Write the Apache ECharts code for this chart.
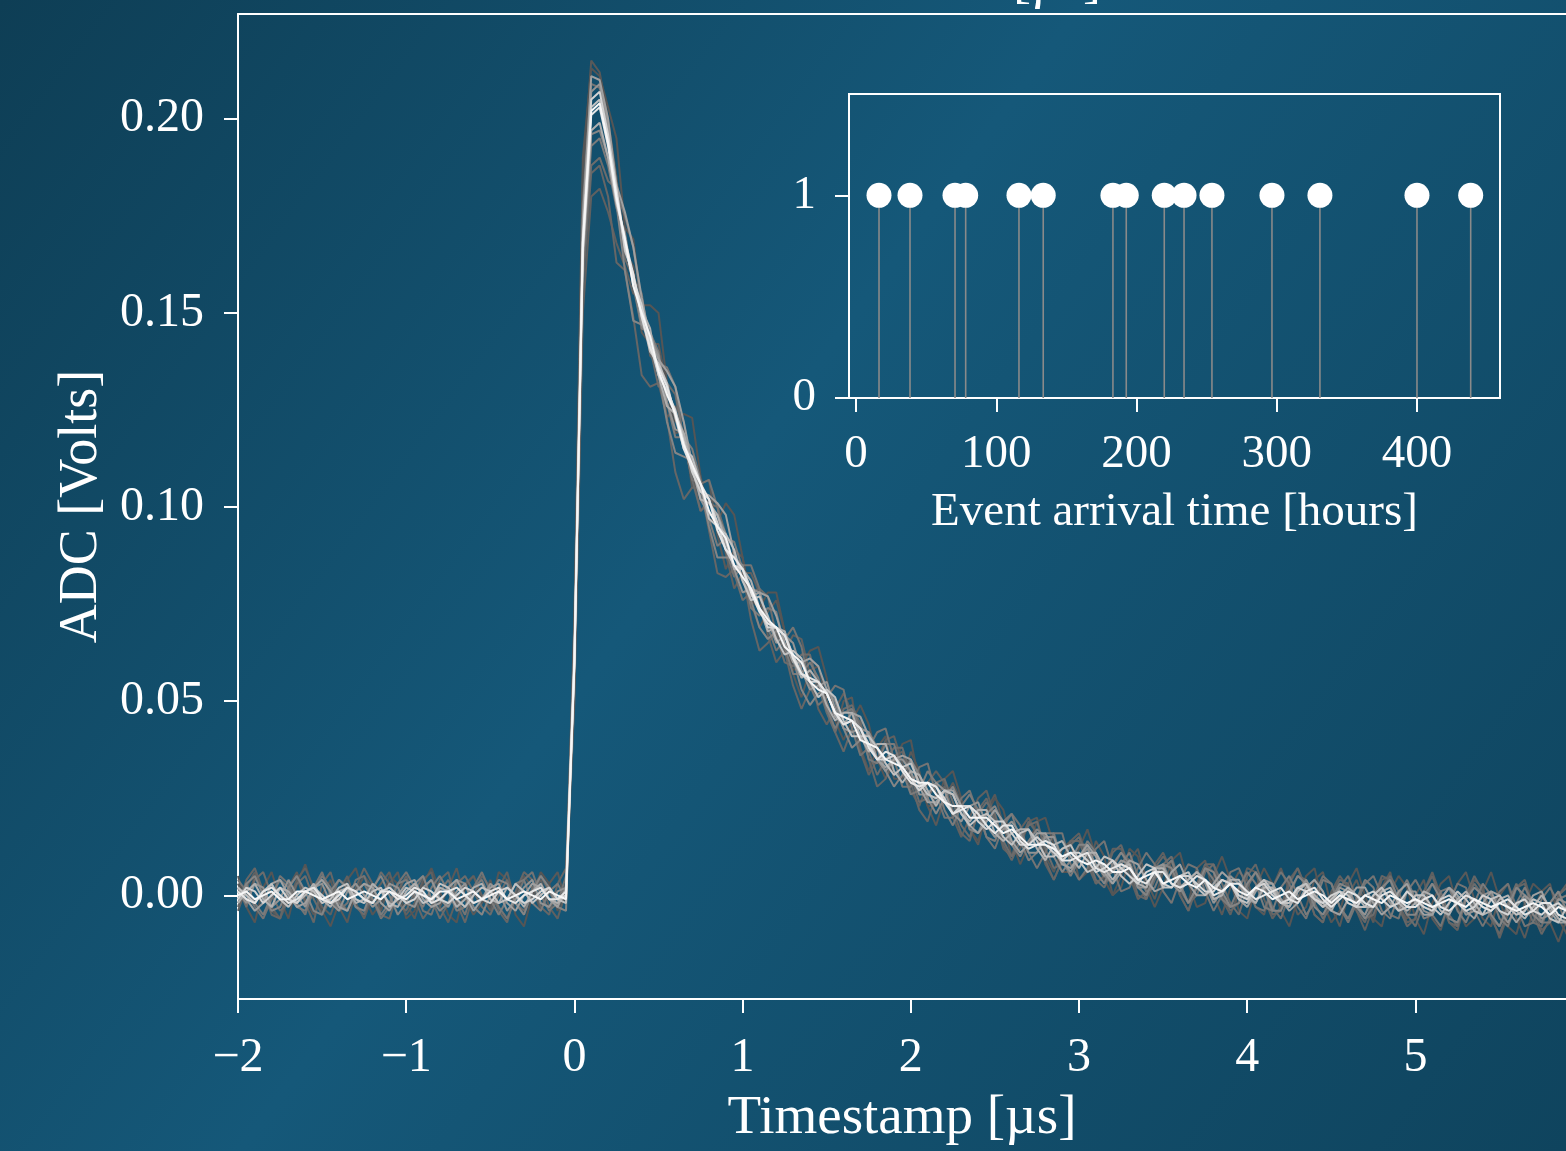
<!DOCTYPE html>
<html>
<head>
<meta charset="utf-8">
<script src="https://cdn.jsdelivr.net/npm/echarts@6/dist/echarts.min.js"></script>
<style>
html,body{margin:0;padding:0;background:#123f57;}
#chart{width:1566px;height:1151px;}
</style>
</head>
<body>
<div id="chart"></div>
<script>
// ---- main panel: waveform sample times [µs] ----
const timestamps = [
-2,-1.95,-1.9,-1.85,-1.8,-1.75,-1.7,-1.65,-1.6,-1.55,-1.5,-1.45,-1.4,-1.35,-1.3,-1.25,-1.2,-1.15,-1.1,-1.05,
-1,-0.95,-0.9,-0.85,-0.8,-0.75,-0.7,-0.65,-0.6,-0.55,-0.5,-0.45,-0.4,-0.35,-0.3,-0.25,-0.2,-0.15,-0.1,-0.05,
0,0.05,0.1,0.15,0.2,0.25,0.3,0.35,0.4,0.45,0.5,0.55,0.6,0.65,0.7,0.75,0.8,0.85,0.9,0.95,
1,1.05,1.1,1.15,1.2,1.25,1.3,1.35,1.4,1.45,1.5,1.55,1.6,1.65,1.7,1.75,1.8,1.85,1.9,1.95,
2,2.05,2.1,2.15,2.2,2.25,2.3,2.35,2.4,2.45,2.5,2.55,2.6,2.65,2.7,2.75,2.8,2.85,2.9,2.95,
3,3.05,3.1,3.15,3.2,3.25,3.3,3.35,3.4,3.45,3.5,3.55,3.6,3.65,3.7,3.75,3.8,3.85,3.9,3.95,
4,4.05,4.1,4.15,4.2,4.25,4.3,4.35,4.4,4.45,4.5,4.55,4.6,4.65,4.7,4.75,4.8,4.85,4.9,4.95,
5,5.05,5.1,5.15,5.2,5.25,5.3,5.35,5.4,5.45,5.5,5.55,5.6,5.65,5.7,5.75,5.8,5.85,5.9];

const traceA_mV = [3,-2,5,1,-4,-6,2,6,-1,-5, 0,4,-3,-7,1,5,2,-4,3,6, -2,-6,1,4,-3,2,7,-1,-5,-2, 4,-3,-6,0,5,2,-4,3,6,-2, 70,185,215,212,200, 185,166,162,145,142,142,131,119,120,105, 106,107,93,84,89,87,75,69,73,76, 68,57,51,58,59,50,42,50,51,38, 32,38,41,30,30,37,32,23,18,25, 29,24,17,13,22,26,18,10,12,19, 20,10,6,12,14,4,6,14,10,0, 2,9,12,4,-1,6,9,1,-2,7, 9,0,-5,2,6,4,-3,-5,2,7, 1,-5,-3,4,6,-3,-8,0,4,-2, -7,2,6,-3,-6,0,4,-6,-9,-2, 3,6,-1,-6,-8,0,3,-6,-11,-4, 1,3,-6,-10];
const traceK_mV = [5,-3,-7,2,6,-1,-6,3,8,1, -4,-8,-2,4,7,0,-5,-2,5,3, -6,-4,3,7,1,-5,-7,2,5,-1, -3,6,4,-5,-8,0,6,3,-4,2, 72,190,213,211,203, 195,172,169,152,152,150,132,122,124,123, 108,97,96,101,98,87,76,74,78,78, 68,58,59,63,64,56,45,40,45,49, 44,35,30,34,39,40,29,23,23,30, 32,25,17,14,21,25,22,14,8,13, 19,20,13,6,6,12,17,10,4,0, 5,12,10,2,-3,2,9,11,3,-3, -2,5,10,4,-4,-6,2,7,3,-4, -8,-1,5,7,-2,-7,-4,3,7,0, -6,-8,1,5,2,-6,-10,-2,3,5, -3,-8,-6,1,6,-1,-8,-10,-2,3, 1,-7,-12,-6];
const traceB_mV = [-4,2,6,1,-3,-6,-1,4,7,2, -3,-5,1,5,-2,-6,0,3,6,-1, -5,-2,4,6,-3,-7,-1,3,5,0, -4,2,6,-2,-5,1,4,-3,-6,1, 50,150,180,182,176, 168,162,155,154,139,137,123,126,122,109, 99,102,101,88,79,83,83,78,67,60, 63,67,66,57,48,44,48,52,47,37, 31,35,40,41,34,27,23,29,32,29, 20,15,20,25,27,20,12,10,17,20, 16,8,4,9,14,16,10,3,5,12, 12,5,-1,1,8,11,6,0,-4,2, 8,6,-1,-5,1,7,6,-1,-6,-3, 4,7,1,-5,-7,1,5,2,-4,-9, -3,4,5,-2,-7,-6,1,6,0,-7, -9,-1,4,2,-5,-11,-5,2,4,-3, -9,-7,0,3];
const traceL_mV = [-3,4,7,1,-5,-6,2,5,-2,-7, 3,6,-1,-4,2,7,3,-5,-6,1, 5,-1,-6,-3,4,6,-2,-7,0,5, 2,-4,-7,1,6,4,-3,-5,3,7, 55,157,186,188,180, 163,161,149,134,131,132,123,109,102,105, 105,94,83,82,84,83,71,63,65,68, 63,54,48,53,55,50,42,37,43,45, 35,28,30,36,37,29,22,19,26,28, 22,16,14,22,25,19,13,9,14,19, 16,9,4,9,14,14,8,3,5,11, 13,7,0,-1,7,10,7,0,-4,3, 8,8,0,-4,-2,5,8,2,-5,-4, 3,7,2,-5,-7,0,4,3,-4,-7, -1,5,4,-3,-8,-6,1,5,-1,-7, -8,0,5,1,-6,-10,-4,2,3,-5, -10,-6,0,2];
const traceC_mV = [2,-3,4,6,0,-4,-2,3,5,-1, -5,-1,4,2,-3,-5,1,6,3,-2, -4,1,5,-1,-6,-2,3,5,1,-3, -5,0,4,-2,-4,2,5,1,-3,3, 58,160,188,190,184, 182,164,159,155,141,131,132,129,117,107, 99,101,100,93,83,76,78,79,77,67, 60,59,62,62,54,47,42,48,49,44, 37,31,35,38,38,31,24,25,29,30, 24,18,15,21,24,21,14,10,14,18, 19,12,7,8,13,15,10,4,2,7, 11,9,3,-1,4,8,10,3,-2,0, 6,8,3,-2,-5,2,6,3,-3,-6, 0,5,4,-2,-6,-3,2,5,-1,-6, -5,1,5,1,-5,-8,-2,3,1,-5, -8,-1,3,0,-6,-8,-2,3,-2,-7, -8,-2,1,-5];
const traceM_mV = [4,1,-3,-6,-1,5,3,-2,-5,2, 6,0,-4,-2,4,5,-1,-6,-3,3, 6,2,-4,-5,1,4,-1,-5,2,6, 1,-3,-6,-1,4,6,0,-4,-2,5, 66,178,209,208,199, 181,175,167,152,141,137,136,131,117,107, 106,107,100,89,82,85,85,79,69,63, 66,69,64,54,49,51,54,53,43,36, 38,42,43,35,28,28,33,34,26,20, 20,25,27,21,15,12,18,21,18,11, 7,11,16,16,8,4,7,12,14,7, 1,2,7,11,8,1,-2,4,8,7, 1,-4,0,6,7,2,-3,-4,2,6, 3,-3,-6,0,5,3,-3,-7,-2,3, 5,0,-5,-6,1,4,0,-5,-8,-2, 3,2,-4,-8,-4,1,3,-3,-8,-7, -1,2,-2,-8];
const traceD_mV = [-1,3,-2,-5,0,4,2,-3,-4,1, 5,2,-2,-4,1,3,-1,-5,-2,3, 4,0,-3,2,5,1,-4,-3,2,4, -1,-5,-1,3,4,-2,-4,1,3,-1, 62,163,193,195,188, 177,171,157,146,145,140,127,118,118,115, 107,97,90,92,91,84,74,72,74,73, 64,57,57,60,56,48,43,47,48,43, 35,34,39,39,32,26,27,32,29,22, 18,23,26,22,15,14,19,21,14,9, 11,16,16,9,5,9,14,11,5,3, 8,11,5,1,2,7,9,3,-2,2, 7,4,-1,-3,2,6,3,-3,-4,2, 5,0,-5,-2,4,3,-3,-6,-1,4, 2,-4,-6,0,4,-1,-6,-5,1,2, -4,-7,-2,3,0,-6,-8,-2,2,-2, -7,-7,-1,0];
const traceN_mV = [-2,3,5,0,-4,-3,2,5,1,-4, -5,1,4,2,-3,-4,2,5,0,-5, -2,3,5,-1,-4,-2,4,3,-3,-5, 0,4,3,-2,-5,1,5,2,-3,-4, 63,163,196,197,190, 178,161,148,147,143,134,122,114,113,112, 105,95,87,87,87,85,76,69,66,68, 68,61,53,49,52,53,50,43,38,40, 42,38,32,28,31,35,31,25,21,25, 28,23,17,16,21,23,18,13,10,14, 17,15,10,6,9,13,13,6,3,8, 11,8,2,0,5,8,7,2,-2,2, 7,6,1,-3,-2,3,6,2,-4,-4, 1,5,3,-3,-5,-1,3,2,-3,-6, -3,2,4,-1,-5,-5,0,3,-1,-6, -7,-1,2,0,-5,-8,-3,2,0,-5, -7,-2,1,-4];
const traceE_mV = [1,-2,3,2,-3,-1,4,0,-3,2, 3,-2,-4,1,3,0,-3,-1,3,2, -2,-3,2,4,-1,-3,1,3,-2,-1, 3,1,-4,-1,2,4,-2,-3,1,2, 60,170,207,209,198, 183,167,160,147,144,139,127,120,119,112, 102,98,98,93,84,78,79,78,71,65, 67,65,58,53,54,55,48,43,42,43, 42,35,32,35,35,32,26,26,29,27, 21,19,23,24,18,15,17,19,16,11, 11,15,15,9,6,10,12,8,5,6, 9,8,2,2,7,8,3,1,4,6, 3,-2,1,5,3,-1,-2,3,3,-1, -3,1,4,0,-3,-2,2,1,-3,-5, 0,2,-2,-4,1,1,-4,-5,-1,2, -1,-5,-4,0,1,-4,-7,-3,0,-2, -6,-5,-1,-2];
const traceO_mV = [2,-1,-4,-2,3,4,0,-3,-2,2, 4,1,-3,-4,1,3,2,-2,-4,0, 3,4,-1,-3,-2,2,4,0,-4,-1, 2,3,-2,-4,0,3,2,-1,-3,2, 64,174,211,210,200, 183,176,167,154,143,138,135,131,122,111, 104,103,101,98,88,81,77,78,77,72, 65,60,60,61,59,53,46,44,47,46, 41,35,33,35,36,35,28,24,24,27, 27,23,18,16,19,22,19,14,11,13, 16,16,12,8,7,10,13,10,6,3, 6,9,8,4,1,2,6,8,3,0, 0,3,6,4,-1,-3,1,4,3,-1, -4,-2,2,4,1,-4,-5,-1,2,2, -2,-5,-3,1,3,-2,-5,-5,-1,2, 0,-4,-6,-2,1,0,-4,-7,-4,0, 1,-4,-7,-7];
const traceF_mV = [-2,1,3,-1,-3,2,1,-2,0,3, -1,-3,1,2,-2,-1,3,1,-2,-3, 1,3,0,-2,2,1,-3,-1,2,3, -1,-2,2,0,-3,1,3,-1,-2,0, 61,165,197,199,190, 178,170,157,151,146,134,126,124,119,110, 102,101,98,91,84,84,81,74,68,69, 68,61,56,58,55,49,45,47,47,41, 37,39,39,32,29,32,31,27,23,27, 26,21,19,22,22,16,14,16,17,17, 12,9,13,14,10,7,11,11,7,4, 7,8,3,2,7,7,3,2,4,6, 4,-1,0,4,4,0,-2,2,2,-2, -3,1,3,0,-2,-4,0,2,0,-3, -3,1,2,-2,-4,-2,1,0,-4,-5, -1,1,-2,-5,-4,-1,0,-4,-6,-3, 0,-3,-6,-7];
const traceG_mV = [2,0,-2,1,3,-1,-3,0,2,1, -2,-1,2,3,-1,-2,1,2,-3,-1, 2,1,-2,-1,3,2,-1,-3,0,2, 1,-2,-1,3,1,-2,0,2,-1,-2, 59,168,203,205,195, 181,166,160,149,140,137,132,123,115,113, 106,97,95,93,89,81,76,77,72,66, 62,63,61,55,51,53,51,45,41,41, 41,38,34,31,33,34,29,26,25,27, 26,21,18,20,21,19,15,13,16,17, 14,10,10,12,13,9,6,7,10,9, 5,3,5,8,7,2,2,5,6,2, 0,2,4,3,-1,-2,2,4,1,-2, -2,2,3,-1,-3,-1,1,0,-3,-3, 0,2,-1,-4,-3,0,0,-3,-5,-2, 1,-1,-4,-5,-1,0,-3,-5,-4,-1, -2,-6,-7,-3];
const traceH_mV = [-1,2,1,-2,0,2,-1,-2,1,2, 0,-2,-1,2,1,-1,-2,1,2,0, -2,-1,2,1,-1,-2,0,2,1,-1, -2,1,2,0,-2,-1,1,2,-1,0, 61,169,205,207,196, 182,167,159,152,142,134,130,125,117,109, 104,102,96,89,85,84,79,74,69,69, 67,62,57,55,55,52,47,44,45,43, 39,35,35,36,33,30,27,29,28,25, 21,23,23,19,17,19,19,16,13,13, 15,13,11,9,11,11,9,6,7,9, 7,5,3,6,7,3,2,5,5,3, 1,1,4,3,0,-1,2,3,0,-2, -1,2,1,-1,-2,0,1,-2,-3,0, 1,-1,-3,-2,1,-1,-3,-4,-1,0, -2,-4,-3,0,-1,-4,-5,-2,-1,-4, -5,-3,-2,-4];
const traceI_mV = [1,-1,-2,1,2,0,-2,-1,1,2, -1,-2,0,2,1,-1,-2,1,1,-1, 0,2,1,-2,-1,1,2,0,-2,-1, 1,2,-1,-2,0,1,2,-1,-1,1, 60,166,201,203,193, 179,169,160,149,141,136,131,124,115,110, 106,102,94,89,87,84,78,73,70,69, 67,61,57,56,55,52,47,44,45,43, 38,35,37,36,32,29,28,29,28,24, 21,22,23,21,18,16,18,18,14,12, 13,14,13,9,9,10,11,7,6,7, 8,7,4,3,6,6,3,2,3,5, 4,0,1,3,3,1,-1,0,1,2, -1,-2,1,2,-1,-3,-1,1,0,-2, -3,0,1,-1,-3,-3,-1,0,-3,-4, -2,0,-1,-3,-4,-2,-1,-3,-5,-4, -2,-2,-5,-6];
const traceJ_mV = [0,1,-1,0,1,-1,-1,1,1,0, -1,0,1,-1,0,1,0,-1,1,0, -1,1,0,-1,1,1,-1,0,1,-1, 0,1,-1,0,1,0,-1,1,0,-1, 60,168,202,204,194, 180,169,157,150,144,135,129,124,116,111, 106,99,95,92,85,82,79,74,71,69, 64,62,60,55,53,52,47,46,45,40, 39,38,35,34,33,30,29,29,26,24, 23,23,20,20,20,18,16,17,15,13, 13,13,12,10,11,9,8,9,8,6, 6,7,4,5,6,3,4,5,3,2, 4,2,1,3,1,0,2,1,-1,0, 1,-1,0,1,0,-2,0,-1,-2,0, -1,-2,0,-1,-2,-1,-2,-3,-2,-1, -2,-3,-1,-2,-3,-2,-3,-4,-3,-2, -3,-5,-3,-4];

// drawing order: darkest first, brightest on top
const traces = [traceA_mV, traceK_mV, traceB_mV, traceL_mV, traceC_mV, traceM_mV, traceD_mV, traceN_mV, traceE_mV, traceO_mV, traceF_mV, traceG_mV, traceH_mV, traceI_mV, traceJ_mV];
const traceColors = ['#595959', '#555555', '#606060', '#666666', '#6c6c6c', '#747474', '#7b7b7b', '#858585', '#939393', '#a0a0a0', '#b0b0b0', '#c2c2c2', '#d4d4d4', '#e6e6e6', '#f7f7f7'];

const mainXTicks = [-2, -1, 0, 1, 2, 3, 4, 5];
const mainYTicks = [0, 0.05, 0.10, 0.15, 0.20];

// ---- inset: event arrival times [hours] ----
const arrivalHours = [16.4, 38.5, 70.6, 78.2, 116.2, 133.5, 183.2, 192.7, 219.8, 233.9, 253.8, 296.6, 330.8, 400.0, 438.3];
const arrivalCount = [1, 1, 1, 1, 1, 1, 1, 1, 1, 1, 1, 1, 1, 1, 1];
const insetXTicks = [0, 100, 200, 300, 400];
const insetYTicks = [0, 1];

const FONT = '"Liberation Serif", "DejaVu Serif", serif';
const WHITE = '#ffffff';

const chart = echarts.init(document.getElementById('chart'), null, {renderer: 'canvas'});

function fmtMinus(v) {
  return v < 0 ? '\u2212' + Math.abs(v) : String(v);
}

const traceSeries = traces.map((tr, k) => ({
  type: 'line',
  xAxisIndex: 0,
  yAxisIndex: 0,
  data: timestamps.map((t, i) => [t, tr[i] / 1000]),   // mV -> V
  showSymbol: false,
  symbol: 'none',
  silent: true,
  clip: true,
  lineStyle: {color: traceColors[k], width: 2},
  z: 2
}));

const tickStyle = {show: true, inside: false, length: 14, lineStyle: {color: WHITE, width: 2}};
const lineStyleW = {show: true, onZero: false, lineStyle: {color: WHITE, width: 2}};

const option = {
  animation: false,
  backgroundColor: {
    type: 'linear', x: 0, y: 0, x2: 1, y2: 1,
    colorStops: [
      {offset: 0, color: '#0e3e55'},
      {offset: 0.45, color: '#155879'},
      {offset: 1, color: '#0f445e'}
    ]
  },
  textStyle: {fontFamily: FONT},
  graphic: [{
    type: 'text',
    left: 1013,
    top: -44,
    style: {text: '[\u00b5s]', fill: WHITE, font: '54px ' + FONT}
  }],
  grid: [
    {left: 238, top: 14, right: 0, bottom: 149, show: false, containLabel: false},
    {left: 849, top: 94, right: 66, bottom: 753, show: true, borderColor: WHITE, borderWidth: 2, backgroundColor: 'transparent', containLabel: false}
  ],
  xAxis: [
    {
      type: 'value', gridIndex: 0, min: -2, max: 5.895, position: 'bottom',
      name: 'Timestamp [\u00b5s]', nameLocation: 'middle', nameGap: 92,
      nameTextStyle: {color: WHITE, fontSize: 55, fontFamily: FONT},
      axisLine: lineStyleW,
      axisTick: Object.assign({customValues: mainXTicks}, tickStyle),
      axisLabel: {color: WHITE, fontSize: 48, fontFamily: FONT, margin: 35, formatter: fmtMinus, customValues: mainXTicks},
      splitLine: {show: false}
    },
    {
      type: 'value', gridIndex: 1, min: -5, max: 459.2,
      name: 'Event arrival time [hours]', nameLocation: 'middle', nameGap: 91,
      nameTextStyle: {color: WHITE, fontSize: 47, fontFamily: FONT},
      axisLine: lineStyleW,
      axisTick: Object.assign({customValues: insetXTicks}, tickStyle),
      axisLabel: {color: WHITE, fontSize: 47, fontFamily: FONT, margin: 33, customValues: insetXTicks},
      splitLine: {show: false}
    },
    {
      // top spine of the main panel
      type: 'value', gridIndex: 0, min: -2, max: 5.895, position: 'top',
      axisLine: lineStyleW,
      axisTick: {show: false},
      axisLabel: {show: false},
      splitLine: {show: false}
    }
  ],
  yAxis: [
    {
      type: 'value', gridIndex: 0, min: -0.0267, max: 0.227,
      name: 'ADC [Volts]', nameLocation: 'middle', nameGap: 128,
      nameTextStyle: {color: WHITE, fontSize: 54, fontFamily: FONT},
      axisLine: lineStyleW,
      axisTick: Object.assign({customValues: mainYTicks}, tickStyle),
      axisLabel: {color: WHITE, fontSize: 48, fontFamily: FONT, margin: 34, customValues: mainYTicks, formatter: v => v.toFixed(2)},
      splitLine: {show: false}
    },
    {
      type: 'value', gridIndex: 1, min: 0, max: 1.5,
      axisLine: lineStyleW,
      axisTick: Object.assign({customValues: insetYTicks}, tickStyle),
      axisLabel: {color: WHITE, fontSize: 47, fontFamily: FONT, margin: 33, customValues: insetYTicks},
      splitLine: {show: false}
    }
  ],
  series: traceSeries.concat([
    {
      type: 'custom',
      xAxisIndex: 1,
      yAxisIndex: 1,
      data: arrivalHours.map((h, i) => [h, arrivalCount[i]]),
      silent: true,
      z: 5,
      renderItem: function (params, api) {
        const p0 = api.coord([api.value(0), 0]);
        const p1 = api.coord([api.value(0), api.value(1)]);
        return {
          type: 'line',
          shape: {x1: p0[0], y1: p0[1], x2: p1[0], y2: p1[1]},
          style: {stroke: '#8a8a8a', lineWidth: 1.6}
        };
      }
    },
    {
      type: 'scatter',
      xAxisIndex: 1,
      yAxisIndex: 1,
      data: arrivalHours.map((h, i) => [h, arrivalCount[i]]),
      symbol: 'circle',
      symbolSize: 25,
      silent: true,
      z: 6,
      itemStyle: {color: WHITE, opacity: 1}
    }
  ])
};

chart.setOption(option);
</script>
</body>
</html>
